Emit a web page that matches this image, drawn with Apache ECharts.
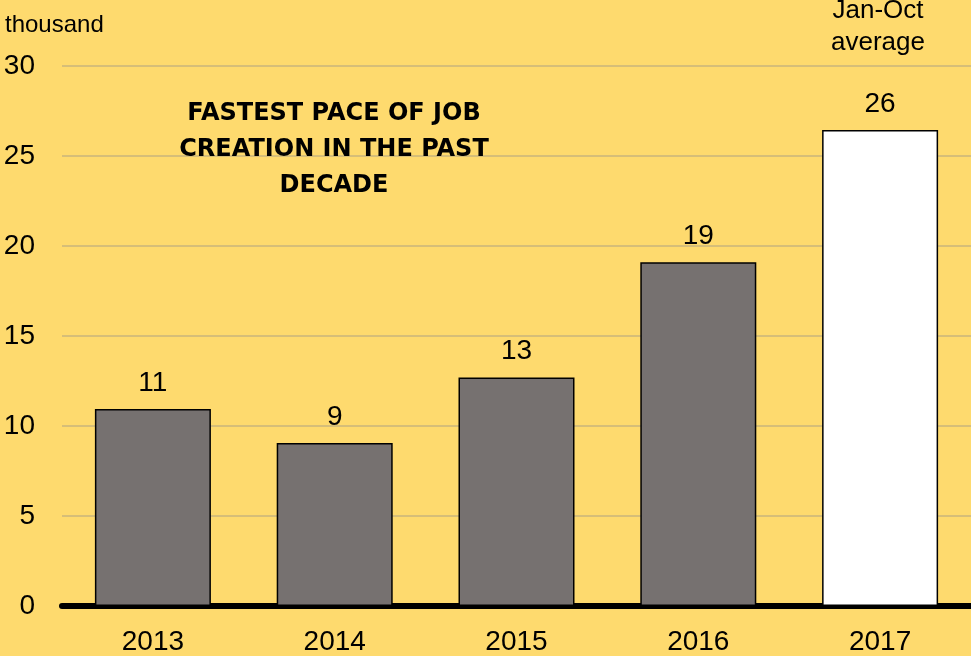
<!DOCTYPE html>
<html>
<head>
<meta charset="utf-8">
<script src="https://cdn.jsdelivr.net/npm/echarts@6/dist/echarts.min.js"></script>
<style>
  html, body { margin: 0; padding: 0; background: #FEDA6E; }
  #chart { width: 971px; height: 656px; }
</style>
</head>
<body>
<div id="chart"></div>
<script>
// data
var years = ['2013', '2014', '2015', '2016', '2017'];
var jobs = [10.95, 9.05, 12.7, 19.1, 26.45];
var jobLabels = ['11', '9', '13', '19', '26'];
var yTicks = [0, 5, 10, 15, 20, 25, 30];

var chart = echarts.init(document.getElementById('chart'));
var font = 'Liberation Sans, Arial, sans-serif';

chart.setOption({
    backgroundColor: '#FEDA6E',
    animation: false,
    title: [{
        text: 'FASTEST PACE OF JOB\nCREATION IN THE PAST\nDECADE',
        left: 329,
        top: 91,
        textAlign: 'center',
        textStyle: {
            fontFamily: 'DejaVu Sans',
            fontWeight: 'bold',
            fontSize: 24,
            lineHeight: 36,
            color: '#000'
        }
    }, {
        text: 'Jan-Oct\naverage',
        left: 873,
        top: -10,
        textAlign: 'center',
        textStyle: {
            fontFamily: font,
            fontWeight: 'normal',
            fontSize: 26,
            lineHeight: 32,
            color: '#000'
        }
    }, {
        text: 'thousand',
        left: 0,
        top: 8,
        textStyle: {
            fontFamily: font,
            fontWeight: 'normal',
            fontSize: 24,
            color: '#000'
        }
    }],
    grid: {
        left: 62,
        right: 0,
        top: 66,
        bottom: 50
    },
    xAxis: {
        type: 'category',
        data: years,
        axisLine: { lineStyle: { color: '#000', width: 6 } },
        axisTick: { show: false },
        axisLabel: {
            fontFamily: font,
            fontSize: 28,
            color: '#000',
            margin: 22
        }
    },
    yAxis: {
        type: 'value',
        min: yTicks[0],
        max: yTicks[yTicks.length - 1],
        interval: 5,
        axisLine: { show: false },
        axisTick: { show: false },
        axisLabel: {
            fontFamily: font,
            fontSize: 28,
            color: '#000',
            margin: 27
        },
        splitLine: { lineStyle: { color: '#C8B47C', width: 1.5 } }
    },
    series: [{
        type: 'bar',
        barWidth: 116,
        data: jobs.map(function (v, i) {
            var last = i === jobs.length - 1;
            return {
                value: v,
                itemStyle: {
                    color: last ? '#FFFFFF' : '#767170',
                    borderColor: '#000',
                    borderWidth: 1.5
                }
            };
        }),
        label: {
            show: true,
            position: 'top',
            distance: 12,
            fontFamily: font,
            fontSize: 28,
            color: '#000',
            formatter: function (p) { return jobLabels[p.dataIndex]; }
        }
    }]
});
</script>
</body>
</html>
